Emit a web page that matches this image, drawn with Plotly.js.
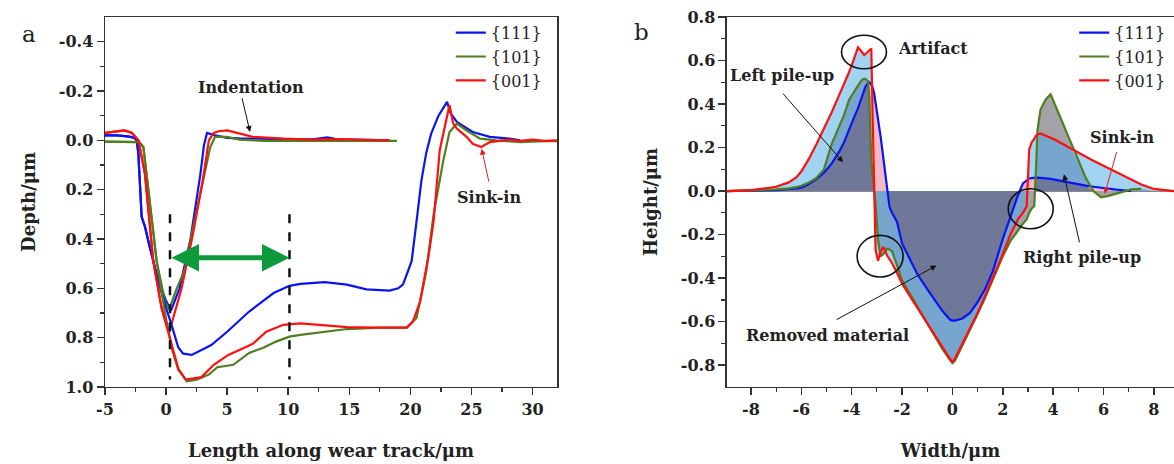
<!DOCTYPE html>
<html><head><meta charset="utf-8">
<script src="https://cdn.plot.ly/plotly-3.0.1.min.js"></script>
<style>html,body{margin:0;padding:0;background:#fff}#chart{width:1174px;height:464px}</style>
</head><body><div id="chart"></div>
<script>
// ---------- Panel a : depth profiles (depth in µm, positive = below surface) ----------
const seriesNames = ['{111}', '{101}', '{001}'];

// indentation profiles (short scans)
const a_ind111_x = [-5,-4,-3,-2.6,-2.4,-2.27,-2.0,-1.73,-1.32,-0.64,0.0,0.4,1.1,2.0,2.4,2.8,3.1,3.35,4,5,6,8,10,12,13.2,14,16,18.3];
const a_ind111_y = [-0.02,-0.02,-0.015,-0.01,0.0,0.054,0.31,0.35,0.435,0.57,0.65,0.69,0.6,0.4,0.27,0.14,0.02,-0.03,-0.02,-0.01,-0.008,-0.005,-0.005,-0.004,-0.012,-0.004,-0.003,0.0];
const a_ind101_x = [-5,-3,-2.2,-1.86,-1.46,-1.05,-0.77,-0.09,0.25,0.8,1.55,2.1,2.7,3.2,3.6,4.0,5.0,6.0,8,10,12,14,16,18,18.9];
const a_ind101_y = [0.005,0.005,0.007,0.027,0.19,0.37,0.49,0.653,0.685,0.61,0.52,0.38,0.24,0.12,0.03,-0.014,-0.014,-0.003,0.002,0.002,0.002,0.003,0.002,0.002,0.002];
const a_ind001_x = [-5,-4,-3.4,-2.8,-2.27,-1.73,-1.32,-1.05,-0.37,0.24,1.27,2.2,3.0,3.5,3.9,4.3,5.0,6.0,7.1,9.6,12,14,16,18.3];
const a_ind001_y = [-0.03,-0.035,-0.04,-0.03,0.0,0.136,0.367,0.49,0.68,0.78,0.6,0.38,0.163,0.0,-0.03,-0.037,-0.04,-0.027,-0.014,-0.007,-0.003,-0.005,-0.002,0.0];

// wear-track profiles (long scans)
const a_wear111_x = [-5,-4,-3,-2.6,-2.4,-2.27,-2.0,-1.73,-1.32,-0.64,0.0,0.4,1.0,1.4,2.1,3.7,5.0,6.8,8.8,10.1,11.0,11.8,13,14.8,16.4,18.3,19.0,19.4,20.1,20.5,20.9,21.3,21.7,22.3,23.0,23.3,23.8,25.1,26.5,28.1,29];
const a_wear111_y = [-0.02,-0.02,-0.015,-0.01,0.0,0.054,0.31,0.35,0.435,0.57,0.68,0.74,0.84,0.865,0.87,0.83,0.776,0.694,0.619,0.59,0.582,0.578,0.575,0.585,0.604,0.609,0.6,0.584,0.49,0.33,0.163,0.05,-0.027,-0.10,-0.156,-0.109,-0.075,-0.034,-0.014,-0.007,0.0];
const a_wear101_x = [-5,-3,-2.2,-1.86,-1.46,-1.05,-0.77,-0.09,0.5,1.0,1.7,2.5,3.5,4.2,5.5,6.8,8.0,9.0,10.1,11.0,12.0,14.8,17.5,19.7,20.5,21.3,21.9,22.7,23.2,23.8,24.6,25.7,27.0,29,31,32];
const a_wear101_y = [0.005,0.005,0.007,0.027,0.19,0.37,0.49,0.7,0.85,0.93,0.977,0.97,0.95,0.92,0.91,0.862,0.84,0.816,0.796,0.789,0.782,0.765,0.759,0.759,0.72,0.53,0.30,0.08,-0.034,-0.068,-0.04,-0.007,0.0,0.007,0.003,0.003];
const a_wear001_x = [-5,-4,-3.4,-2.8,-2.27,-1.73,-1.32,-1.05,-0.37,0.32,1.0,1.6,2.9,3.9,5.1,6.0,7.1,8.2,9.6,11.0,12.0,14.8,17,19.7,20.2,20.8,21.5,21.9,22.4,23.0,23.2,23.5,23.8,24.6,25.1,25.8,26.5,28.1,29,30,31,32];
const a_wear001_y = [-0.03,-0.035,-0.04,-0.03,0.0,0.136,0.367,0.49,0.68,0.80,0.925,0.97,0.96,0.91,0.87,0.85,0.825,0.776,0.748,0.742,0.746,0.757,0.759,0.759,0.735,0.653,0.463,0.327,0.04,-0.095,-0.143,-0.068,-0.048,-0.014,0.014,0.027,0.007,-0.003,0.002,-0.003,0.002,0.0];

// guide marks in panel a
const a_guideX = [0.32, 10.1];
const a_guideDepth = [0.3, 0.97];
const a_arrowDepth = 0.476;

// ---------- Panel b : cross-section heights (µm) ----------
const b_width = [-8.95,-8,-7.5,-7,-6.5,-6.2,-6.0,-5.7,-5.4,-5.1,-4.8,-4.5,-4.3,-4.1,-3.9,-3.75,-3.6,-3.5,-3.45,-3.35,-3.3,-3.22,-3.15,-3.1,-3.05,-2.95,-2.85,-2.75,-2.68,-2.6,-2.5,-2.4,-2.2,-2.0,-1.7,-1.4,-1.0,-0.7,-0.4,-0.1,0,0.1,0.4,0.7,1.0,1.3,1.6,2.0,2.3,2.6,2.8,2.95,3.05,3.15,3.25,3.32,3.38,3.5,3.7,3.9,4.1,4.4,4.7,5.0,5.3,5.6,5.9,6.2,6.5,6.8,7.1,7.5,8.0,8.4,8.8];
const b_h111 = [0,0.0,0.003,0.005,0.008,0.012,0.016,0.032,0.055,0.085,0.125,0.18,0.225,0.285,0.34,0.38,0.43,0.465,0.48,0.495,0.50,0.49,0.47,0.445,0.41,0.33,0.25,0.16,0.095,0.03,-0.07,-0.1,-0.14,-0.24,-0.31,-0.38,-0.45,-0.50,-0.55,-0.59,-0.595,-0.595,-0.585,-0.56,-0.51,-0.45,-0.37,-0.22,-0.12,-0.02,0.035,0.05,0.058,0.06,0.062,0.062,0.062,0.061,0.06,0.056,0.052,0.045,0.038,0.03,0.025,0.02,0.015,0.01,0.007,0.004,0.0,null,null,null,null];
const b_h101 = [0,0.003,0.005,0.008,0.013,0.018,0.025,0.04,0.06,0.1,0.215,0.30,0.35,0.42,0.46,0.485,0.51,0.517,0.515,0.505,0.432,0.14,0.05,0.0,-0.06,-0.227,-0.30,-0.29,-0.275,-0.265,-0.268,-0.275,-0.34,-0.41,-0.47,-0.53,-0.61,-0.665,-0.725,-0.775,-0.79,-0.78,-0.71,-0.64,-0.565,-0.49,-0.41,-0.30,-0.23,-0.18,-0.15,-0.13,-0.1,-0.08,-0.07,0.1,0.28,0.375,0.42,0.445,0.39,0.30,0.22,0.135,0.06,0.0,-0.028,-0.022,-0.012,0.0,0.008,0.01,null,null,null];
const b_h001 = [0,0.005,0.012,0.02,0.04,0.063,0.09,0.148,0.215,0.285,0.36,0.44,0.49,0.547,0.61,0.66,0.64,0.625,0.63,0.64,0.648,0.655,0.25,-0.05,-0.27,-0.32,-0.28,-0.257,-0.27,-0.295,-0.31,-0.33,-0.375,-0.425,-0.48,-0.535,-0.61,-0.665,-0.72,-0.77,-0.785,-0.77,-0.70,-0.63,-0.56,-0.48,-0.40,-0.29,-0.2,-0.13,-0.1,-0.07,0.19,0.225,0.24,0.255,0.26,0.265,0.255,0.245,0.235,0.215,0.195,0.175,0.158,0.14,0.122,0.105,0.088,0.072,0.052,0.03,0.01,0.005,0.0];

// tick labels
const a_xticks = [-5,0,5,10,15,20,25,30];
const a_xtickText = ['-5','0','5','10','15','20','25','30'];
const a_yticks = [-0.4,-0.2,0,0.2,0.4,0.6,0.8,1.0];
const a_ytickText = ['-0.4','-0.2','0.0','0.2','0.4','0.6','0.8','1.0'];
const b_xticks = [-8,-6,-4,-2,0,2,4,6,8];
const b_xtickText = ['-8','-6','-4','-2','0','2','4','6','8'];
const b_yticks = [-0.8,-0.6,-0.4,-0.2,0,0.2,0.4,0.6,0.8];
const b_ytickText = ['-0.8','-0.6','-0.4','-0.2','0.0','0.2','0.4','0.6','0.8'];

// ---------- styling ----------
const COL = {'{111}':'#0a14f0','{101}':'#4f7f1e','{001}':'#ff1010'};
const SERIF = 'DejaVu Serif';
const AX = '#333333';

function ov(a, b) {
  return a.map((v, i) => {
    const w = b[i];
    if (v == null || w == null) return 0;
    if (v > 0 && w > 0) return Math.min(v, w);
    if (v < 0 && w < 0) return Math.max(v, w);
    return 0;
  });
}
const ovRG = ov(b_h001, b_h101);
const ovRGB = ov(ovRG, b_h111);

function line(x, y, name, show, xa, ya, legend) {
  return {x, y, name, type:'scatter', mode:'lines', showlegend: show, legend: legend,
    line:{color: COL[name], width: 2.2}, xaxis: xa, yaxis: ya, hoverinfo:'skip'};
}
function fillT(y, color) {
  return {x: b_width, y, type:'scatter', mode:'none', fill:'tozeroy', fillcolor: color,
    showlegend:false, xaxis:'x2', yaxis:'y2', hoverinfo:'skip', connectgaps:false};
}

const traces = [
  line(a_ind111_x, a_ind111_y, '{111}', false, 'x', 'y', 'legend'),
  line(a_ind101_x, a_ind101_y, '{101}', false, 'x', 'y', 'legend'),
  line(a_ind001_x, a_ind001_y, '{001}', false, 'x', 'y', 'legend'),
  line(a_wear111_x, a_wear111_y, '{111}', true, 'x', 'y', 'legend'),
  line(a_wear101_x, a_wear101_y, '{101}', true, 'x', 'y', 'legend'),
  line(a_wear001_x, a_wear001_y, '{001}', true, 'x', 'y', 'legend'),
  fillT(b_h101.map(v => v == null ? 0 : v), 'rgb(162,162,168)'),
  fillT(b_h001, 'rgb(160,212,242)'),
  fillT(ovRG, 'rgb(118,165,205)'),
  fillT(b_h111.map(v => v == null ? 0 : v), 'rgb(242,186,196)'),
  fillT(ovRGB, 'rgb(112,120,153)'),
  line(b_width, b_h111, '{111}', true, 'x2', 'y2', 'legend2'),
  line(b_width, b_h101, '{101}', true, 'x2', 'y2', 'legend2'),
  line(b_width, b_h001, '{001}', true, 'x2', 'y2', 'legend2')
];

const tickFont = {family: SERIF, size: 16, color:'#222', weight:700};
const titleFont = {family: SERIF, size: 18, color:'#222', weight:700};
const MINOR = {ticks:'outside', ticklen:4, tickwidth:1.2, tickcolor:AX, showgrid:false};
function axis(extra) {
  return Object.assign({
    showline:true, linecolor:AX, linewidth:1.5, ticks:'outside', ticklen:7, tickwidth:1.5, tickcolor:AX,
    showgrid:false, zeroline:false, tickfont:tickFont, tickmode:'array', fixedrange:true
  }, extra);
}
const txtFont = {family: SERIF, size: 16, color:'#222', weight:700};
function label(text, x, y, xr, yr) {
  return {text, x, y, xref:xr, yref:yr, showarrow:false, font:txtFont, xanchor:'center', yanchor:'middle'};
}
function arrow(x, y, ax, ay, xr, yr, color) {
  return {text:'', x, y, ax, ay, xref:xr, yref:yr, axref:xr, ayref:yr, showarrow:true,
    arrowhead:2, arrowsize:1.2, arrowwidth:1, arrowcolor:color};
}
function ellipse(cx, cy, rx, ry) {
  return {type:'circle', xref:'x2', yref:'y2', x0:cx-rx, x1:cx+rx, y0:cy-ry, y1:cy+ry,
    line:{color:'#111', width:1.6}};
}
const legFont = {family:SERIF, size:16, color:'#222'};

const layout = {
  width:1174, height:464, margin:{l:0,r:0,t:0,b:0}, paper_bgcolor:'#fff', plot_bgcolor:'#fff',
  font:{family:SERIF},
  showlegend:true,
  xaxis: axis({domain:[0.08944,0.47445], range:[-5,32], tickvals:a_xticks, ticktext:a_xtickText, mirror:true,
    minor:Object.assign({tickvals:[-2.5,2.5,7.5,12.5,17.5,22.5,27.5]}, MINOR),
    title:{text:'Length along wear track/μm', font:titleFont, standoff:26}}),
  yaxis: axis({domain:[0.16595,0.96336], range:[1.0,-0.5], tickvals:a_yticks, ticktext:a_ytickText, mirror:true,
    minor:Object.assign({tickvals:[-0.3,-0.1,0.1,0.3,0.5,0.7,0.9]}, MINOR),
    title:{text:'Depth/μm', font:titleFont, standoff:18}}),
  xaxis2: axis({domain:[0.61925,1], range:[-8.95,8.8], tickvals:b_xticks, ticktext:b_xtickText, mirror:true, anchor:'y2',
    minor:Object.assign({tickvals:[-7,-5,-3,-1,1,3,5,7]}, MINOR),
    title:{text:'Width/μm', font:titleFont, standoff:26}}),
  yaxis2: axis({domain:[0.16595,0.96336], range:[-0.9,0.8], tickvals:b_yticks, ticktext:b_ytickText, anchor:'x2',
    zeroline:true, zerolinecolor:'#8a8a8a', zerolinewidth:1,
    minor:Object.assign({tickvals:[-0.7,-0.5,-0.3,-0.1,0.1,0.3,0.5,0.7]}, MINOR),
    title:{text:'Height/μm', font:titleFont, standoff:18}}),
  legend:{x:0.384, y:0.966, xanchor:'left', yanchor:'top', bgcolor:'rgba(0,0,0,0)', tracegroupgap:0,
    font:legFont, itemwidth:30},
  legend2:{x:0.915, y:0.966, xanchor:'left', yanchor:'top', bgcolor:'rgba(0,0,0,0)', tracegroupgap:0,
    font:legFont, itemwidth:30},
  shapes: [
    {type:'line', xref:'x', yref:'y', x0:a_guideX[0], x1:a_guideX[0], y0:a_guideDepth[0], y1:a_guideDepth[1], line:{color:'#111', width:2.5, dash:'dash'}},
    {type:'line', xref:'x', yref:'y', x0:a_guideX[1], x1:a_guideX[1], y0:a_guideDepth[0], y1:a_guideDepth[1], line:{color:'#111', width:2.5, dash:'dash'}},
    ellipse(-3.51, 0.639, 0.893, 0.077),
    ellipse(-2.87, -0.299, 0.913, 0.0956),
    ellipse(3.11, -0.081, 0.893, 0.092)
  ],
  annotations: [
    {text:'a', x:20/1174, y:1-19/464, xref:'paper', yref:'paper', showarrow:false, font:{family:SERIF, size:23, color:'#222'}},
    {text:'b', x:641/1174, y:1-17/464, xref:'paper', yref:'paper', showarrow:false, font:{family:SERIF, size:23, color:'#222'}},
    {text:'', x:a_guideX[1], y:a_arrowDepth, ax:a_guideX[0], ay:a_arrowDepth, xref:'x', yref:'y', axref:'x', ayref:'y',
      showarrow:true, arrowside:'end+start', arrowhead:2, arrowsize:1.1, arrowwidth:5, arrowcolor:'#0c9a3c'},
    label('Indentation', 6.95, -0.216, 'x', 'y'),
    arrow(6.87, -0.034, 6.19, -0.177, 'x', 'y', '#111'),
    label('Sink-in', 26.42, 0.233, 'x', 'y'),
    arrow(25.83, 0.034, 26.45, 0.174, 'x', 'y', '#e02020'),
    label('Artifact', -0.77, 0.656, 'x2', 'y2'),
    label('Left pile-up', -6.77, 0.532, 'x2', 'y2'),
    arrow(-4.34, 0.133, -6.78, 0.455, 'x2', 'y2', '#111'),
    label('Removed material', -4.96, -0.663, 'x2', 'y2'),
    arrow(-0.63, -0.342, -4.66, -0.594, 'x2', 'y2', '#111'),
    label('Right pile-up', 5.13, -0.303, 'x2', 'y2'),
    arrow(4.43, 0.077, 5.06, -0.242, 'x2', 'y2', '#111'),
    label('Sink-in', 6.75, 0.248, 'x2', 'y2'),
    arrow(6.05, -0.012, 6.54, 0.187, 'x2', 'y2', '#e02020')
  ]
};

Plotly.newPlot('chart', traces, layout, {staticPlot:true, displayModeBar:false});
</script></body></html>
